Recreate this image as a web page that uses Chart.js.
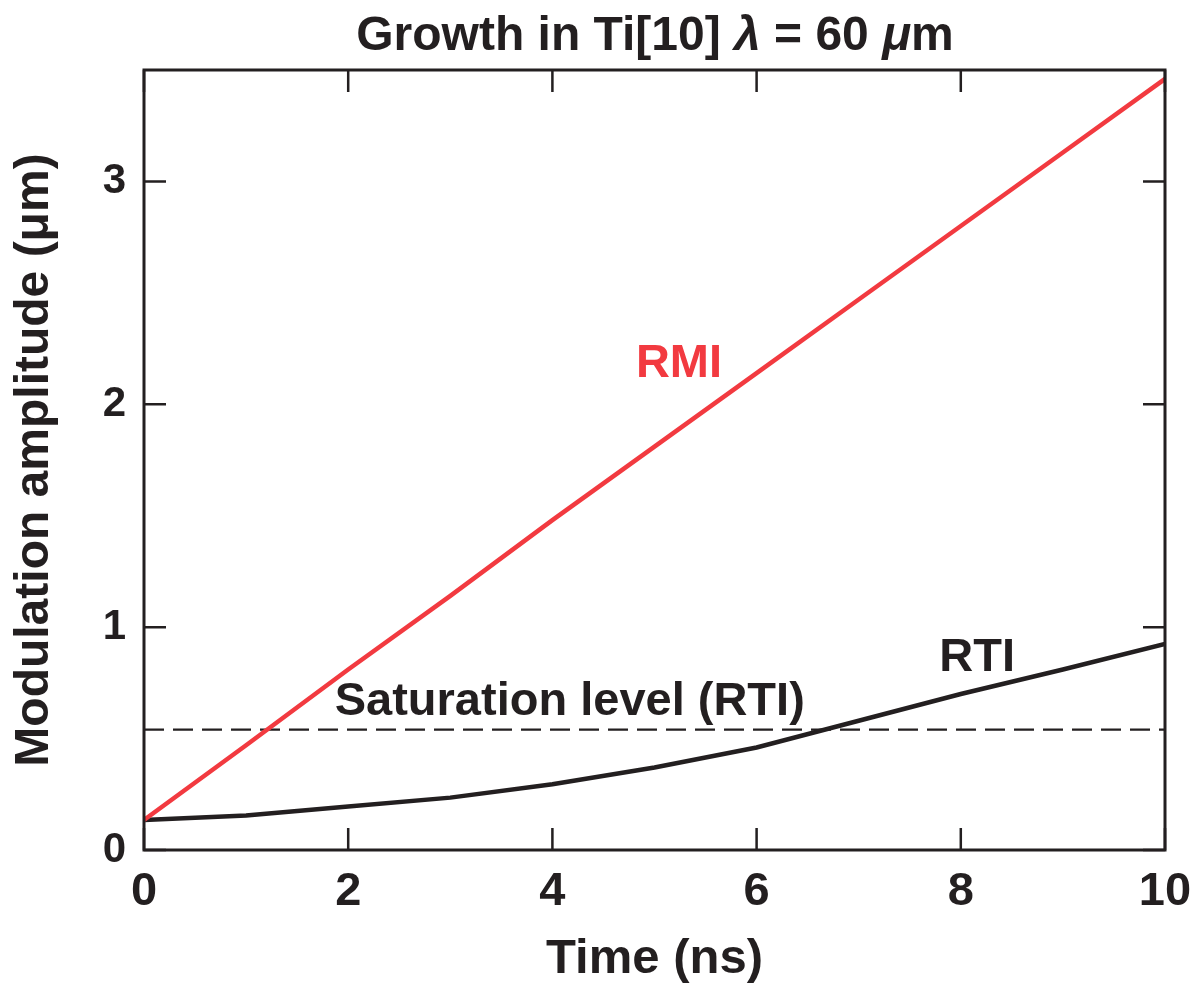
<!DOCTYPE html>
<html>
<head>
<meta charset="utf-8">
<script src="https://cdn.jsdelivr.net/npm/chart.js@4"></script>
<style>
  html, body { margin: 0; padding: 0; background: #fff; }
  #wrap { width: 1190px; height: 985px; }
</style>
</head>
<body>
<div id="wrap"><canvas id="chart" width="1190" height="985"></canvas></div>
<script>
'use strict';

/* ─── Data ─────────────────────────────────────────────────── */
const timeNs     = [0, 1, 2, 3, 4, 5, 6, 7, 8, 9, 10];
const rmiAmp     = [0.135, 0.47, 0.81, 1.14, 1.48, 1.81, 2.14, 2.47, 2.80, 3.13, 3.46];
const rtiAmp     = [0.135, 0.155, 0.195, 0.235, 0.295, 0.37, 0.46, 0.58, 0.70, 0.81, 0.925];
const satTime    = [0, 10];
const satLevel   = [0.54, 0.54];
const xTicks     = [0, 2, 4, 6, 8, 10];
const yTicks     = [0, 1, 2, 3];

/* annotation labels: [text, x (ns), y (µm), colour] */
const labels = [
  ['RMI', 5.24, 2.18, '#f23a40'],
  ['RTI', 8.16, 0.86, '#231f20'],
  ['Saturation level (RTI)', 4.17, 0.665, '#231f20'],
];

const INK  = '#231f20';
const RED  = '#f23a40';
const FONT = "'Liberation Sans', Arial, Helvetica, sans-serif";

const pts = (xs, ys) => xs.map((x, i) => ({ x, y: ys[i] }));

/* ─── Frame, inward ticks, title, annotations ──────────────── */
const decor = {
  id: 'decor',
  afterDatasetsDraw(chart) {
    const { ctx, chartArea: a, scales: { x, y } } = chart;
    const TL = 22;
    ctx.save();
    ctx.strokeStyle = INK;
    ctx.lineWidth = 2.5;
    ctx.beginPath();
    xTicks.forEach(v => {
      const px = x.getPixelForValue(v);
      ctx.moveTo(px, a.bottom); ctx.lineTo(px, a.bottom - TL);
      ctx.moveTo(px, a.top);    ctx.lineTo(px, a.top + TL);
    });
    yTicks.forEach(v => {
      const py = y.getPixelForValue(v);
      ctx.moveTo(a.left, py);  ctx.lineTo(a.left + TL, py);
      ctx.moveTo(a.right, py); ctx.lineTo(a.right - TL, py);
    });
    ctx.stroke();
    ctx.lineWidth = 3;
    ctx.strokeRect(a.left, a.top, a.right - a.left, a.bottom - a.top);

    /* annotations */
    ctx.font = `bold 47px ${FONT}`;
    ctx.textAlign = 'center';
    ctx.textBaseline = 'middle';
    labels.forEach(([t, lx, ly, c]) => {
      ctx.fillStyle = c;
      ctx.fillText(t, x.getPixelForValue(lx), y.getPixelForValue(ly));
    });

    /* title with italic greek letters */
    const segs = [
      ['Growth in Ti[10] ', false],
      ['λ', true],
      [' = 60 ', false],
      ['μ', true],
      ['m', false],
    ];
    const fontOf = it => `${it ? 'italic ' : ''}bold 48px ${FONT}`;
    let total = 0;
    segs.forEach(([s, it]) => { ctx.font = fontOf(it); total += ctx.measureText(s).width; });
    let cx = 655 - total / 2;
    ctx.textAlign = 'left';
    ctx.textBaseline = 'alphabetic';
    ctx.fillStyle = INK;
    segs.forEach(([s, it]) => {
      ctx.font = fontOf(it);
      ctx.fillText(s, cx, 50);
      cx += ctx.measureText(s).width;
    });
    ctx.restore();
  },
};

/* ─── Chart ────────────────────────────────────────────────── */
new Chart(document.getElementById('chart'), {
  type: 'line',
  data: {
    datasets: [
      {
        label: 'RMI',
        data: pts(timeNs, rmiAmp),
        borderColor: RED,
        borderWidth: 4.5,
        pointRadius: 0,
        tension: 0,
      },
      {
        label: 'RTI',
        data: pts(timeNs, rtiAmp),
        borderColor: INK,
        borderWidth: 4.5,
        pointRadius: 0,
        tension: 0,
      },
      {
        label: 'Saturation level (RTI)',
        data: pts(satTime, satLevel),
        borderColor: INK,
        borderWidth: 2.2,
        borderDash: [20, 9],
        pointRadius: 0,
      },
    ],
  },
  options: {
    responsive: false,
    animation: false,
    devicePixelRatio: 1,
    layout: { padding: { top: 70, right: 25, left: 0, bottom: 0 } },
    plugins: {
      legend: { display: false },
      tooltip: { enabled: false },
      title: { display: false },
    },
    scales: {
      x: {
        type: 'linear',
        min: 0,
        max: 10,
        afterBuildTicks: s => { s.ticks = xTicks.map(v => ({ value: v })); },
        afterFit: s => { s.height = 135; s.paddingLeft = 0; s.paddingRight = 0; },
        grid: { display: false, drawTicks: false },
        border: { display: false },
        ticks: {
          padding: 14,
          color: INK,
          font: { family: FONT, size: 47, weight: 'bold' },
          maxRotation: 0,
        },
        title: {
          display: true,
          text: 'Time (ns)',
          color: INK,
          font: { family: FONT, size: 49, weight: 'bold' },
          padding: { top: 0, bottom: -4 },
        },
      },
      y: {
        min: 0,
        max: 3.5,
        afterBuildTicks: s => { s.ticks = yTicks.map(v => ({ value: v })); },
        afterFit: s => { s.width = 144; },
        grid: { display: false, drawTicks: false },
        border: { display: false },
        ticks: {
          padding: 18,
          color: INK,
          font: { family: FONT, size: 42, weight: 'bold' },
        },
        title: {
          display: true,
          text: 'Modulation amplitude (μm)',
          color: INK,
          font: { family: FONT, size: 48, weight: 'bold' },
          padding: { top: 6, bottom: 0 },
        },
      },
    },
  },
  plugins: [decor],
});
</script>
</body>
</html>
